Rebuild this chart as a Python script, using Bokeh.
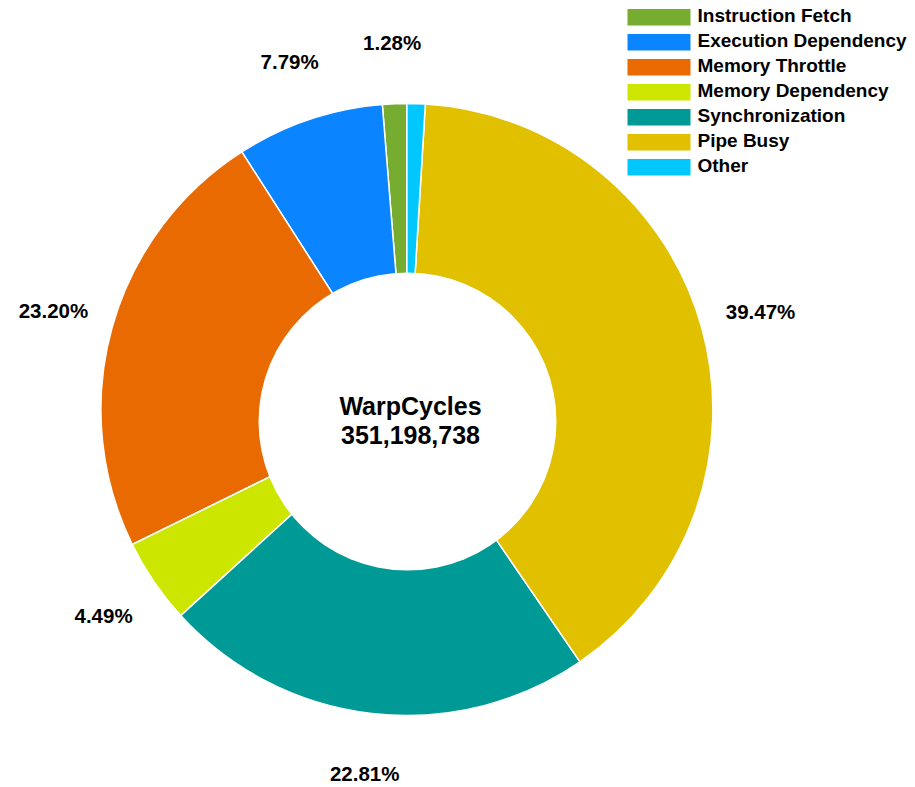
import numpy as np
from bokeh.plotting import figure
from bokeh.models import Range1d, ColumnDataSource
from bokeh.core.properties import value
from bokeh.embed import file_html
from bokeh.resources import INLINE

# ---- data ----
categories = ["Instruction Fetch", "Execution Dependency", "Memory Throttle",
              "Memory Dependency", "Synchronization", "Pipe Busy", "Other"]
percentages = [1.28, 7.79, 23.20, 4.49, 22.81, 39.47, 0.96]
colors = ["#76AD31", "#0A84FF", "#E86A00", "#CCE600", "#009A96", "#E1C000", "#00C8FF"]
center_title = "WarpCycles"
center_value = "351,198,738"

# ---- layout (data units == screen pixels, y negated) ----
W, H = 915, 787
FONT = value("Liberation Sans")
cx, cy = 406.4, -409.0      # pie centre
R = 306.0                    # outer radius
hx, hy, hr = 407.0, -421.0, 149.0  # hole
label_r = 367.0
shift = -7.5                 # text baseline correction

p = figure(width=W, height=H, output_backend="svg", toolbar_location=None,
           x_range=Range1d(0, W), y_range=Range1d(-H, 0),
           x_axis_location=None, y_axis_location=None, min_border=0,
           outline_line_color=None, background_fill_color="white",
           border_fill_color="white")
p.grid.visible = False

frac = np.array(percentages) / sum(percentages)
ends = np.pi / 2 + 2 * np.pi * np.cumsum(frac)
starts = np.concatenate([[np.pi / 2], ends[:-1]])
mids = (starts + ends) / 2

src = ColumnDataSource(dict(start=starts, end=ends, color=colors, cat=categories))
p.wedge(x=cx, y=cy, radius=R, start_angle="start", end_angle="end",
        direction="anticlock", fill_color="color", line_color="white",
        line_width=1.5, source=src)

# hole
p.circle(x=hx, y=hy, radius=hr, fill_color="white", line_color=None)

# percentage labels (only slices >= 1%)
lab = [f"{v:.2f}%" if v >= 1 else "" for v in percentages]
lsrc = ColumnDataSource(dict(x=cx + label_r * np.cos(mids),
                             y=cy + label_r * np.sin(mids), t=lab))
p.text(x="x", y="y", text="t", source=lsrc, text_font=FONT,
       text_font_style="bold", text_font_size="20.5px", text_color="#000000",
       text_align="center", text_baseline="alphabetic", y_offset=7.3 + shift)

# centre text
p.text(x=[hx + 3], y=[hy], text=[center_title], text_font=FONT,
       text_font_style="bold", text_font_size="25px", text_color="#000000",
       text_align="center", text_baseline="alphabetic", y_offset=-8 + shift)
p.text(x=[hx + 3], y=[hy], text=[center_value], text_font=FONT,
       text_font_style="bold", text_font_size="25px", text_color="#000000",
       text_align="center", text_baseline="alphabetic", y_offset=21 + shift)

# legend
n = len(categories)
row_y = -(16.7 + 25.0 * np.arange(n))
p.rect(x=[658.5] * n, y=row_y, width=63, height=16.5, fill_color=colors,
       line_color=None)
p.text(x=[697] * n, y=row_y, text=categories, text_font=FONT,
       text_font_style="bold", text_font_size="19px", text_color="#000000",
       text_align="left", text_baseline="alphabetic", y_offset=6.2 + shift)

open("out.html", "w").write(file_html(p, INLINE))
